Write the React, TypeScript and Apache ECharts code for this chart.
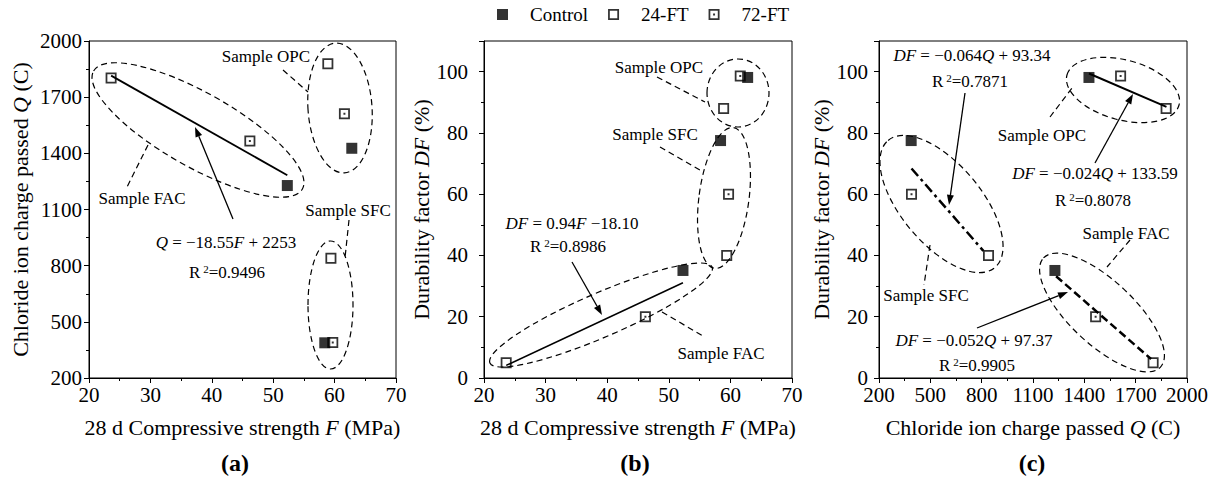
import React, { useEffect, useRef } from 'react';
import * as echarts from 'echarts';

// Groups order in each array: OPC, FAC, SFC
const groups = ['OPC', 'FAC', 'SFC'];
const seriesNames = ['Control', '24-FT', '72-FT'];

const controlF = [62.8, 52.3, 58.4];
const controlQ = [1427, 1228, 388];
const controlDF = [98.1, 35.1, 77.5];

const ft24F = [58.9, 23.6, 59.4];
const ft24Q = [1878, 1802, 840];
const ft24DF = [88.0, 5.0, 40.0];

const ft72F = [61.6, 46.2, 59.7];
const ft72Q = [1612, 1466, 390];
const ft72DF = [98.6, 20.0, 60.0];

// Fitted line end points
const fitA_F = [23.6, 52.3];
const fitA_Q = [1815, 1283];
const fitB_F = [23.6, 52.3];
const fitB_DF = [4.1, 31.1];
const fitC_SFC_Q = [390, 810];
const fitC_SFC_DF = [68.4, 41.5];
const fitC_OPC_Q = [1427, 1880];
const fitC_OPC_DF = [99.4, 88.5];
const fitC_FAC_Q = [1235, 1790];
const fitC_FAC_DF = [33.2, 6.2];

const xTicksF = [20, 70, 10];
const yTicksQ = [200, 2000, 300];
const yTicksDF = [0, 110, 20];

const serif = "'Liberation Serif', 'Times New Roman', serif";
const filledSym = 'path://M0,0H10V10H0Z';
const openSym = 'path://M0,0H10V10H0Z M1.6,1.6V8.4H8.4V1.6Z';
const dotSym = 'path://M0,0H10V10H0Z M1.6,1.6V8.4H8.4V1.6Z M4.1,4.1H5.9V5.9H4.1Z';
const symbols = [filledSym, openSym, dotSym];

const zip = (a: number[], b: number[]) => a.map((v, i) => [v, b[i]]);

const richAnn = {
  i: { fontStyle: 'italic', fontFamily: serif, fontSize: 17, color: '#000' },
  sup: { fontFamily: serif, fontSize: 11, verticalAlign: 'top', padding: [0, 0, 0, 3], color: '#000' },
};

function txt(x: number, y: number, text: string, size = 17, bold = false): any {
  return {
    type: 'text', x, y, silent: true,
    style: {
      text, fontFamily: serif, fontSize: size, fontWeight: bold ? 'bold' : 'normal', fill: '#000',
      align: 'center', verticalAlign: 'middle', textAlign: 'center', textVerticalAlign: 'middle',
      rich: richAnn,
    },
  };
}

function ell(cx: number, cy: number, rx: number, ry: number, cwDeg: number): any {
  return {
    type: 'ellipse', x: cx, y: cy, rotation: -cwDeg * Math.PI / 180, silent: true,
    shape: { cx: 0, cy: 0, rx, ry },
    style: { fill: 'none', stroke: '#000', lineWidth: 1.2, lineDash: [6, 4] },
  };
}

function dline(x1: number, y1: number, x2: number, y2: number): any {
  return {
    type: 'line', silent: true, shape: { x1, y1, x2, y2 },
    style: { stroke: '#000', lineWidth: 1.2, lineDash: [6, 4] },
  };
}

function arrow(x1: number, y1: number, x2: number, y2: number): any[] {
  const ang = Math.atan2(y2 - y1, x2 - x1);
  const L = 10, W = 3.5;
  const bx = x2 - L * Math.cos(ang), by = y2 - L * Math.sin(ang);
  const px = -Math.sin(ang) * W, py = Math.cos(ang) * W;
  return [
    { type: 'line', silent: true, shape: { x1, y1, x2: bx, y2: by }, style: { stroke: '#000', lineWidth: 1.3 } },
    { type: 'polygon', silent: true, shape: { points: [[x2, y2], [bx + px, by + py], [bx - px, by - py]] }, style: { fill: '#000' } },
  ];
}

const nameStyle = {
  fontFamily: serif, fontSize: 22, color: '#000',
  rich: { i: { fontStyle: 'italic', fontFamily: serif, fontSize: 22, color: '#000' } },
};

function axis(gridIndex: number, ticks: number[], name: string, nameGap: number, margin: number, isY: boolean): any {
  return {
    type: 'value', gridIndex, min: ticks[0], max: ticks[1], interval: ticks[2],
    name, nameLocation: 'middle', nameGap, nameTextStyle: nameStyle,
    axisLine: { show: true, onZero: false, lineStyle: { color: '#000', width: 1 } },
    axisTick: { show: true, inside: false, length: 5, lineStyle: { color: '#000' } },
    minorTick: { show: true, splitNumber: 2, length: 3, lineStyle: { color: '#000' } },
    splitLine: { show: false },
    minorSplitLine: { show: false },
    axisLabel: {
      color: '#000', fontFamily: serif, fontSize: 21, margin,
      showMaxLabel: isY && ticks[1] === 110 ? false : true,
      formatter: (v: number) => String(v),
    },
  };
}

function scatterSet(xi: number, arrsX: number[][], arrsY: number[][]): any[] {
  return seriesNames.map((n, k) => ({
    type: 'scatter', name: n, xAxisIndex: xi, yAxisIndex: xi,
    data: zip(arrsX[k], arrsY[k]), symbol: symbols[k], symbolSize: 11,
    itemStyle: { color: '#000' }, z: 3, silent: true,
  }));
}

function fitLine(xi: number, xs: number[], ys: number[], type: any, width: number): any {
  return {
    type: 'line', name: 'fit', xAxisIndex: xi, yAxisIndex: xi, data: zip(xs, ys),
    symbol: 'none', lineStyle: { color: '#000', width, type }, z: 2, silent: true,
  };
}

export default function App() {
  const ref = useRef<HTMLDivElement>(null);
  useEffect(() => {
    if (!ref.current) return;
    const chart = echarts.init(ref.current, undefined, { renderer: 'svg' });
    const grids = [
      { left: 89, top: 41, width: 307, height: 337 },
      { left: 484, top: 41, width: 308, height: 337 },
      { left: 879, top: 41, width: 308, height: 337 },
    ].map(g => ({ ...g, show: true, borderColor: '#000', borderWidth: 1, backgroundColor: 'transparent' }));

    const graphics: any[] = [
      // Panel a
      ell(198, 130, 120, 37, 29.5),
      ell(340, 108, 32, 65, -4),
      ell(330.5, 305, 22.5, 64, 0),
      dline(148, 145, 127, 187),
      dline(283, 70, 308, 92),
      dline(349, 220, 345, 258),
      txt(142, 198, 'Sample FAC'),
      txt(266, 56, 'Sample OPC'),
      txt(348, 210, 'Sample SFC'),
      ...arrow(233, 219, 195, 127),
      txt(226, 242, '{i|Q} = −18.55{i|F} + 2253'),
      txt(227, 272, 'R{sup|2}=0.9496'),
      // Panel b
      ell(738, 93, 31, 34, 0),
      ell(724, 198, 25, 71, 7.5),
      ell(601, 315, 121, 22, -23.3),
      dline(657, 77, 705, 102),
      dline(660, 147, 700, 170),
      dline(662, 312, 703, 336),
      txt(659, 67, 'Sample OPC'),
      txt(655, 134, 'Sample SFC'),
      txt(721, 353, 'Sample FAC'),
      ...arrow(572, 262, 602, 315),
      txt(572, 223, '{i|DF} = 0.94{i|F} −18.10'),
      txt(568, 246, 'R{sup|2}=0.8986'),
      // Panel c
      ell(941.5, 204, 83, 40, 50),
      ell(1123, 90, 58, 30, 15),
      ell(1102, 312.5, 80, 32, 43),
      dline(930, 245, 924, 285),
      dline(1050, 117, 1072, 88),
      dline(1130, 240, 1107, 267),
      txt(926, 295, 'Sample SFC'),
      txt(1042, 135, 'Sample OPC'),
      txt(1126, 233, 'Sample FAC'),
      ...arrow(965, 93, 949, 205),
      ...arrow(1095, 163, 1133, 94),
      ...arrow(977, 328, 1068, 292),
      txt(972, 55, '{i|DF} = −0.064{i|Q} + 93.34'),
      txt(970, 81, 'R{sup|2}=0.7871'),
      txt(1095, 173, '{i|DF} = −0.024{i|Q} + 133.59'),
      txt(1093, 200, 'R{sup|2}=0.8078'),
      txt(974, 340, '{i|DF} = −0.052{i|Q} + 97.37'),
      txt(977, 365, 'R{sup|2}=0.9905'),
      // panel labels
      txt(235, 463, '(a)', 24, true),
      txt(635, 463, '(b)', 24, true),
      txt(1032, 463, '(c)', 24, true),
    ];

    chart.setOption({
      animation: false,
      backgroundColor: '#fff',
      textStyle: { fontFamily: serif },
      legend: {
        left: 497, top: 5, padding: 0, itemWidth: 11, itemHeight: 11, itemGap: 20,
        textStyle: { fontFamily: serif, fontSize: 19, color: '#000', padding: [0, 0, 0, 17] },
        data: seriesNames.map((n, k) => ({ name: n, icon: symbols[k] })),
        selectedMode: false,
      },
      grid: grids,
      xAxis: [
        axis(0, xTicksF, '28 d Compressive strength {i|F} (MPa)', 38, 6, false),
        axis(1, xTicksF, '28 d Compressive strength {i|F} (MPa)', 38, 6, false),
        axis(2, yTicksQ, 'Chloride ion charge passed {i|Q} (C)', 38, 6, false),
      ],
      yAxis: [
        axis(0, yTicksQ, 'Chloride ion charge passed {i|Q} (C)', 58, 7, true),
        axis(1, yTicksDF, 'Durability factor {i|DF} (%)', 42, 16, true),
        axis(2, yTicksDF, 'Durability factor {i|DF} (%)', 36, 11, true),
      ],
      series: [
        fitLine(0, fitA_F, fitA_Q, 'solid', 1.8),
        ...scatterSet(0, [controlF, ft24F, ft72F], [controlQ, ft24Q, ft72Q]),
        fitLine(1, fitB_F, fitB_DF, 'solid', 1.5),
        ...scatterSet(1, [controlF, ft24F, ft72F], [controlDF, ft24DF, ft72DF]),
        fitLine(2, fitC_SFC_Q, fitC_SFC_DF, [10, 4, 3, 4], 2.5),
        fitLine(2, fitC_OPC_Q, fitC_OPC_DF, 'solid', 2),
        fitLine(2, fitC_FAC_Q, fitC_FAC_DF, [8, 4], 2.5),
        ...scatterSet(2, [controlQ, ft24Q, ft72Q], [controlDF, ft24DF, ft72DF]),
      ],
      graphic: { elements: graphics },
    });
    return () => chart.dispose();
  }, []);
  return (
    <div
      ref={ref}
      style={{ position: 'fixed', left: 0, top: 0, width: 1219, height: 478, background: '#fff' }}
    />
  );
}
